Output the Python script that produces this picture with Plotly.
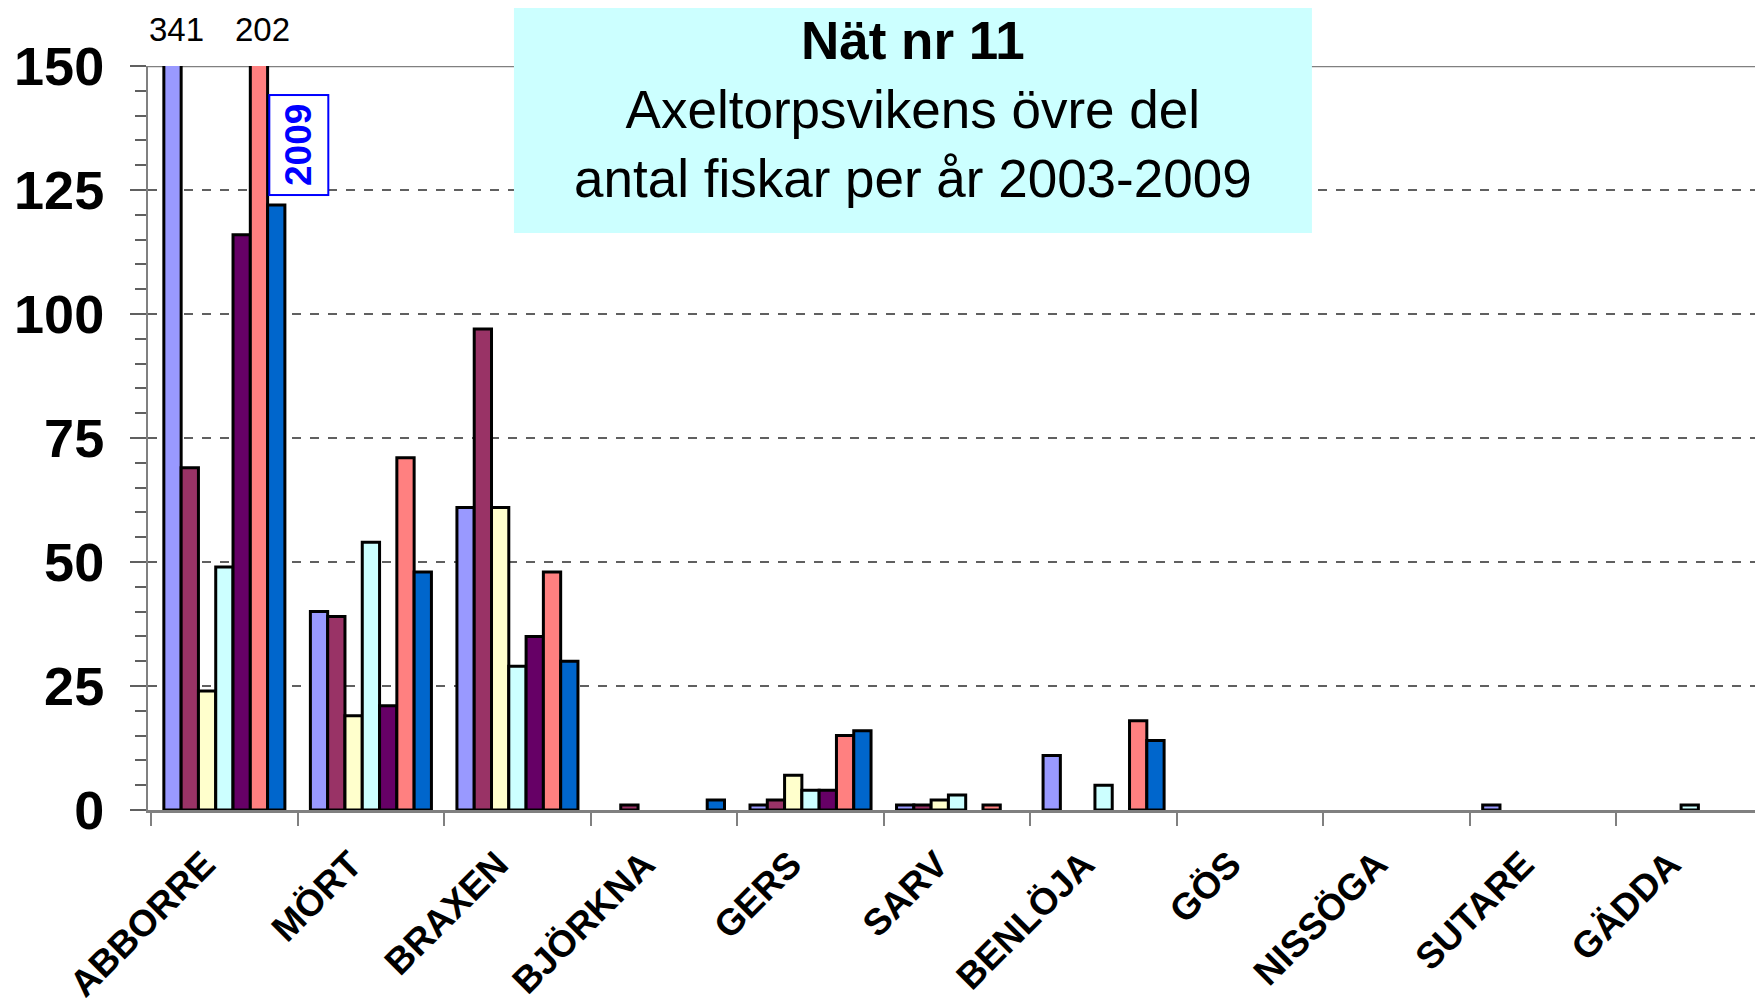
import plotly.graph_objects as go

categories = ["ABBORRE", "MÖRT", "BRAXEN", "BJÖRKNA", "GERS", "SARV",
              "BENLÖJA", "GÖS", "NISSÖGA", "SUTARE", "GÄDDA"]
years = ["2003", "2004", "2005", "2006", "2007", "2008", "2009"]
v2003 = [341, 40, 61, 0, 1, 1, 11, 0, 0, 1, 0]
v2004 = [69, 39, 97, 1, 2, 1, 0, 0, 0, 0, 0]
v2005 = [24, 19, 61, 0, 7, 2, 0, 0, 0, 0, 0]
v2006 = [49, 54, 29, 0, 4, 3, 5, 0, 0, 0, 1]
v2007 = [116, 21, 35, 0, 4, 0, 0, 0, 0, 0, 0]
v2008 = [202, 71, 48, 0, 15, 1, 18, 0, 0, 0, 0]
v2009 = [122, 48, 30, 2, 16, 0, 14, 0, 0, 0, 0]
series = [v2003, v2004, v2005, v2006, v2007, v2008, v2009]
colors = ["#9999FF", "#993366", "#FFFFCC", "#CCFFFF", "#660066", "#FF8080", "#0066CC"]
y_ticks = [0, 25, 50, 75, 100, 125, 150]
y_max = 150
title_lines = ["Nät nr 11", "Axeltorpsvikens övre del", "antal fiskar per år 2003-2009"]
legend_year = "2009"

FONT = "Liberation Sans, Arial, Helvetica, sans-serif"
BARGAP = 0.174

fig = go.Figure()
for yr, vals, col in zip(years, series, colors):
    fig.add_trace(go.Bar(
        x=categories,
        y=[v if v != 0 else None for v in vals],
        name=yr,
        marker=dict(color=col, line=dict(color="black", width=3)),
    ))

# labels for bars exceeding the axis maximum
n = len(series)
group_w = 1 - BARGAP
bw = group_w / n
annotations = []
for j, vals in enumerate(series):
    for i, v in enumerate(vals):
        if v > y_max:
            xc = i - group_w / 2 + (j + 0.5) * bw
            annotations.append(dict(
                x=xc, y=y_max, xref="x", yref="y", text=str(v),
                showarrow=False, yanchor="bottom", yshift=17, xshift=4,
                borderpad=0,
                font=dict(family=FONT, size=33, color="black")))

# title text
annotations.append(dict(
    x=0.4737, y=0.9409, xref="paper", yref="paper",
    text="<b>" + title_lines[0] + "</b><br>" + title_lines[1] + "<br>" + title_lines[2],
    showarrow=False, xanchor="center", yanchor="middle", align="center",
    font=dict(family=FONT, size=53, color="black")))

# 2009 marker box
annotations.append(dict(
    x=0.507, y=134, xref="x", yref="y", text="<b>" + legend_year + "</b>",
    textangle=-90, showarrow=False, xanchor="center", yanchor="middle",
    font=dict(family=FONT, size=37, color="#0000FF"),
    bordercolor="#0000FF", borderwidth=2, borderpad=8, bgcolor="white"))

shapes = [
    # solid top line at y max
    dict(type="line", xref="paper", yref="y", x0=0, x1=1, y0=y_max, y1=y_max,
         line=dict(color="#808080", width=2.5), layer="below"),
    # title box
    dict(type="rect", xref="paper", yref="paper", x0=0.2266, x1=0.7207,
         y0=0.7755, y1=1.086, fillcolor="#CCFFFF", line=dict(width=0), layer="above"),
]

# page body has an 8px margin, so the figure origin sits at (8, 8)
fig.update_layout(
    barmode="group",
    bargap=BARGAP,
    bargroupgap=0,
    showlegend=False,
    width=1763, height=1004,
    margin=dict(l=140, r=8, t=58, b=202),
    plot_bgcolor="white", paper_bgcolor="white",
    font=dict(family=FONT, color="black"),
    annotations=annotations,
    shapes=shapes,
)
fig.update_xaxes(
    type="category",
    automargin=False,
    tickson="boundaries",
    ticks="outside", ticklen=13, tickwidth=2, tickcolor="#808080",
    showline=True, linecolor="#808080", linewidth=2.5,
    showgrid=False,
    tickangle=-45,
    ticklabelshift=-20,
    ticklabelstandoff=15,
    tickfont=dict(family=FONT, size=37, color="black", weight="bold"),
)
fig.update_yaxes(
    automargin=False,
    range=[0, y_max],
    tickvals=y_ticks,
    ticks="outside", ticklen=16, tickwidth=2, tickcolor="#606060",
    minor=dict(dtick=5, ticks="outside", ticklen=11, tickwidth=1.5, tickcolor="#606060", showgrid=False),
    showline=True, linecolor="#808080", linewidth=2,
    showgrid=True, gridcolor="#606060", griddash="dash", gridwidth=1.5,
    zeroline=False,
    ticklabelstandoff=15,
    tickfont=dict(family=FONT, size=54, color="black", weight="bold"),
)

fig.write_html("out.html")
